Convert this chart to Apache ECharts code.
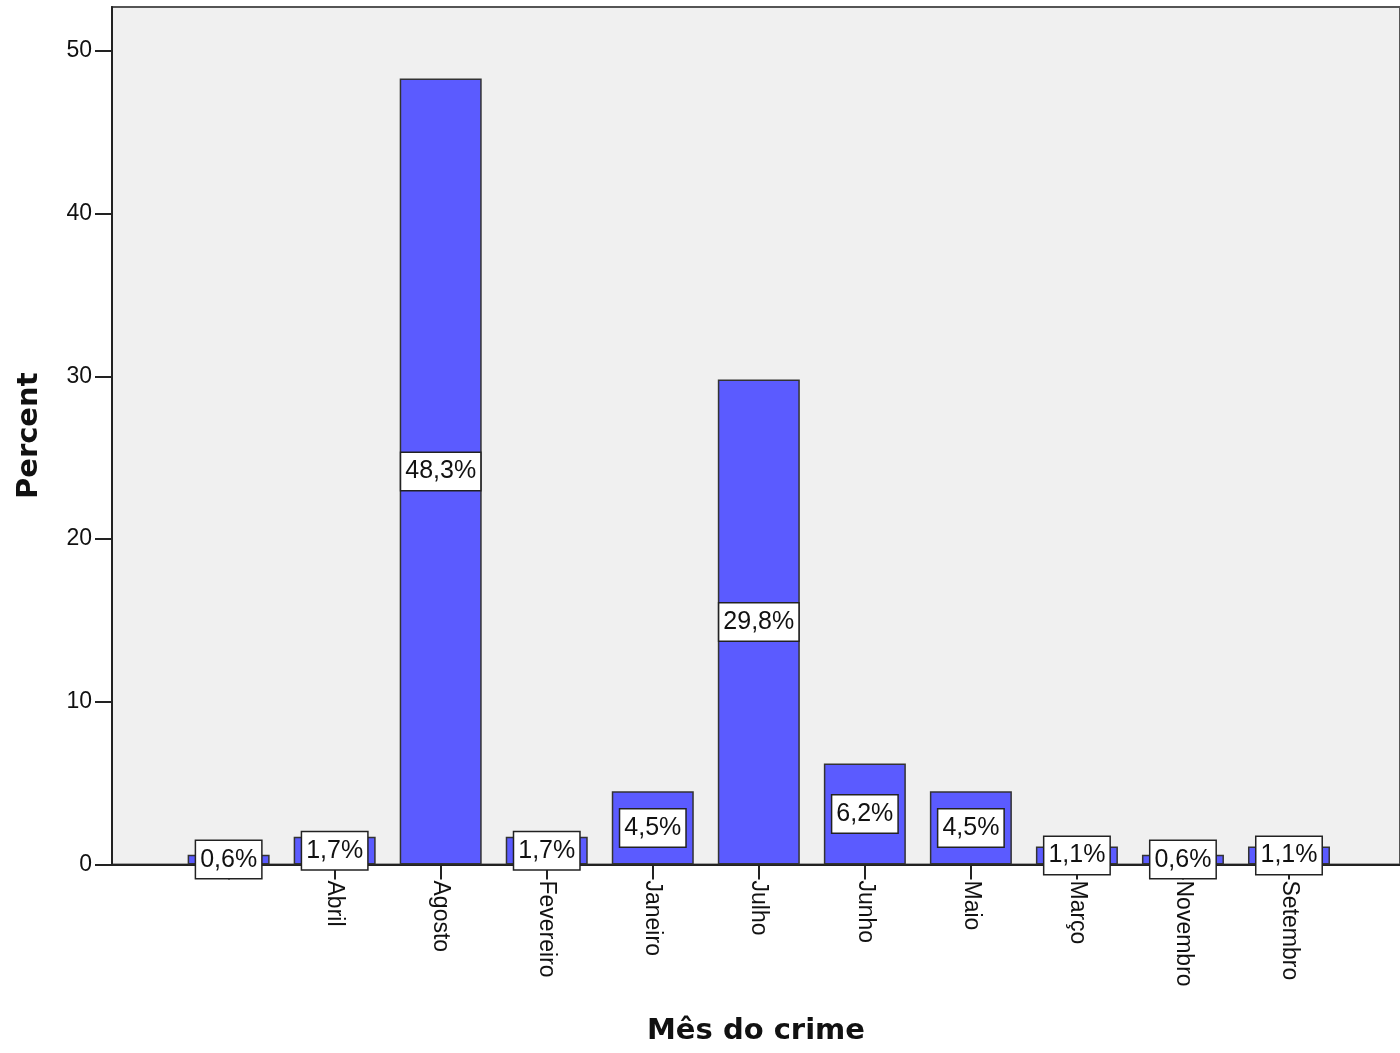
<!DOCTYPE html>
<html><head><meta charset="utf-8">
<script src="https://cdn.jsdelivr.net/npm/echarts@6/dist/echarts.min.js"></script>
<style>html,body{margin:0;padding:0;background:#fff}#c{width:1400px;height:1053px}</style>
</head><body><div id="c"></div>
<script>
const categories = ['', 'Abril', 'Agosto', 'Fevereiro', 'Janeiro', 'Julho', 'Junho', 'Maio', 'Março', 'Novembro', 'Setembro'];
const percents = [0.6, 1.7, 48.3, 1.7, 4.5, 29.8, 6.2, 4.5, 1.1, 0.6, 1.1];
const yTicks = [0, 10, 20, 30, 40, 50];

const chart = echarts.init(document.getElementById('c'));
const positions = categories.map((_, i) => i);
chart.setOption({
  animation: false,
  grid: { left: 112, right: -2, top: 7, bottom: 188.5, show: true, backgroundColor: '#f0f0f0', borderColor: '#555', borderWidth: 2 },
  xAxis: {
    type: 'value', min: -1.1, max: 11.047,
    splitLine: { show: false },
    axisLine: { show: true, onZero: true, lineStyle: { color: '#222', width: 2 } },
    axisTick: { show: true, length: 15, lineStyle: { color: '#222', width: 2 }, customValues: positions },
    axisLabel: { customValues: positions, rotate: -90, margin: 16, fontFamily: 'Liberation Sans, Arial', fontSize: 23, color: '#111',
      formatter: v => categories[Math.round(v)] || '' },
    name: 'Mês do crime', nameLocation: 'middle', nameGap: 152,
    nameTextStyle: { fontFamily: 'DejaVu Sans', fontWeight: 'bold', fontSize: 29, color: '#111' }
  },
  yAxis: {
    type: 'value', min: 0, max: 52.7, interval: 10,
    splitLine: { show: false },
    axisLine: { show: true, onZero: false, lineStyle: { color: '#222', width: 2 } },
    axisTick: { show: true, length: 17, lineStyle: { color: '#222', width: 2 }, customValues: yTicks },
    axisLabel: { customValues: yTicks, margin: 20, fontFamily: 'Liberation Sans, Arial', fontSize: 23, color: '#111' },
    name: 'Percent', nameLocation: 'middle', nameGap: 68, nameRotate: 90,
    nameTextStyle: { fontFamily: 'DejaVu Sans', fontWeight: 'bold', fontSize: 29, color: '#111' }
  },
  series: [{
    type: 'bar', barWidth: 82,
    data: percents.map((v, i) => [i, v]),
    itemStyle: { color: '#5b5bff', borderColor: '#333', borderWidth: 1.5 },
    label: {
      show: true, position: 'inside', fontFamily: 'Liberation Sans, Arial', fontSize: 25, color: '#111',
      backgroundColor: '#fff', borderColor: '#222', borderWidth: 1.5, padding: [7, 4, 5, 4],
      formatter: p => p.value[1].toFixed(1).replace('.', ',') + '%'
    }
  }]
});
</script></body></html>
